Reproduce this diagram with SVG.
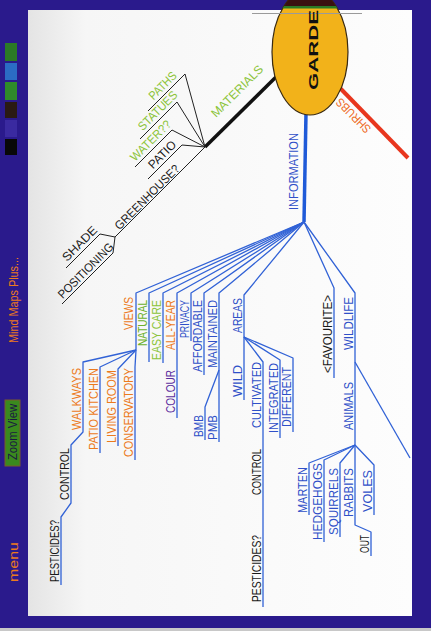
<svg xmlns="http://www.w3.org/2000/svg" width="431" height="631" viewBox="0 0 431 631">
<defs>
<style>
text{font-family:"Liberation Sans",Arial,sans-serif;font-size:12px}
.o{fill:#ec7a1c}.g{fill:#6cb02c}.y{fill:#8cc43a}.b{fill:#2f50c8}.k{fill:#1a1a1a}.p{fill:#5b2d9e}
.bl{stroke:#3162d6;stroke-width:1.3;fill:none;stroke-linejoin:round}
.bk{stroke:#222;stroke-width:1;fill:none}
</style>
<linearGradient id="shade" x1="0" x2="1" y1="0" y2="0">
<stop offset="0" stop-color="#e4e4e4"/><stop offset="0.15" stop-color="#f6f6f6"/><stop offset="1" stop-color="#fdfdfd"/>
</linearGradient>
<clipPath id="ec"><ellipse cx="310" cy="52" rx="38" ry="63"/></clipPath>
</defs>

<g id="frame">
<rect width="431" height="631" fill="#2a1a8c"/>
<rect x="28" y="10" width="384" height="606" fill="url(#shade)"/>
<rect x="0" y="628" width="431" height="3" fill="#c8c8c8"/>
<rect x="5" y="43" width="12" height="18" fill="#2b7a26"/>
<rect x="5" y="63" width="12" height="17" fill="#2b6cc4"/>
<rect x="5" y="82" width="12" height="18" fill="#2f8a2a"/>
<rect x="5" y="102" width="12" height="16" fill="#2a1a14"/>
<rect x="5" y="120" width="12" height="17" fill="#3a2aa0"/>
<rect x="5" y="139" width="12" height="16" fill="#080808"/>
<text class="o" transform="translate(18,343) rotate(-90)" font-size="14" textLength="86" lengthAdjust="spacingAndGlyphs">Mind Maps Plus...</text>
<rect x="5" y="400" width="15" height="66" fill="#3a8a1e" stroke="#7a5a2a" stroke-width="1"/>
<text transform="translate(17,460) rotate(-90)" font-size="13" fill="#1a1a40" textLength="56" lengthAdjust="spacingAndGlyphs">Zoom View</text>
<text class="o" transform="translate(18,582) rotate(-90)" font-size="14" textLength="40" lengthAdjust="spacingAndGlyphs">menu</text>
</g>

<g id="connectors">
<line x1="278" y1="75" x2="205" y2="147" stroke="#111" stroke-width="3.5"/>
<line x1="340" y1="88" x2="408" y2="158" stroke="#e8361e" stroke-width="4"/>
<line x1="306" y1="113" x2="304" y2="222" stroke="#1f5ad8" stroke-width="3.5"/>
<path class="bk" d="M205,147 L185,74 L148,111"/>
<path class="bk" d="M205,147 L177,102 L140,139"/>
<path class="bk" d="M205,147 L172,130 L135,167"/>
<path class="bk" d="M205,147 L182,145 L148,179"/>
<path class="bk" d="M205,147 L115,237"/>
<path class="bk" d="M115,237 L100,234 L66,268"/>
<path class="bk" d="M115,237 L113,253 L62,304"/>
<path class="bl" d="M304,222 L136,293 V350"/>
<path class="bl" d="M136,350 L83,362 V432 L71,445 V503 L61,517 V585"/>
<path class="bl" d="M136,350 L100,367 V453"/>
<path class="bl" d="M136,350 L118,369 V446"/>
<path class="bl" d="M136,350 L135,367 V460"/>
<path class="bl" d="M304,222 L149,293 V362"/>
<path class="bl" d="M304,222 L163,293 V363"/>
<path class="bl" d="M304,222 L177,293 V418"/>
<path class="bl" d="M304,222 L191,293 V341"/>
<path class="bl" d="M304,222 L204,293 V375"/>
<path class="bl" d="M304,222 L219,293 V442"/>
<path class="bl" d="M219,370 L205,407 V440"/>
<path class="bl" d="M304,222 L244,295 V400"/>
<path class="bl" d="M244,337 L263,362 V607"/>
<path class="bl" d="M244,337 L280,360 V438"/>
<path class="bl" d="M244,337 L293,358 V432"/>
<path class="bl" d="M304,222 L334,288 V378"/>
<path class="bl" d="M304,222 L355,293 V525 L371,532 V556"/>
<path class="bl" d="M355,362 L410,458"/>
<path class="bl" d="M355,445 L309,463 V515"/>
<path class="bl" d="M355,445 L324,460 V542"/>
<path class="bl" d="M355,445 L340,463 V537"/>
<path class="bl" d="M355,445 L374,465 V515"/>
</g>

<g id="garden">
<ellipse cx="310" cy="52" rx="38" ry="63" fill="#f2b21a" stroke="#3a2a10" stroke-width="1.2"/>
<g clip-path="url(#ec)"><rect x="260" y="-15" width="100" height="21" fill="#3a1010"/><rect x="260" y="6" width="100" height="2.5" fill="#2a7a26"/></g>
<line x1="252" y1="13.5" x2="362" y2="13.5" stroke="#9a9a9a" stroke-width="1.2"/>
<text transform="translate(318,90) rotate(-90)" font-weight="bold" font-size="24" fill="#111" textLength="80" lengthAdjust="spacingAndGlyphs">GARDE</text>
</g>

<g id="materials"><text class="y" text-anchor="middle" transform="translate(240,94) rotate(-45)" textLength="68" lengthAdjust="spacingAndGlyphs">MATERIALS</text></g>
<g id="paths"><text class="y" text-anchor="middle" transform="translate(165.5,88.5) rotate(-45)" textLength="34" lengthAdjust="spacingAndGlyphs">PATHS</text></g>
<g id="statues"><text class="y" text-anchor="middle" transform="translate(160.5,113.5) rotate(-45)" textLength="50" lengthAdjust="spacingAndGlyphs">STATUES</text></g>
<g id="water"><text class="y" text-anchor="middle" transform="translate(153.5,143.5) rotate(-45)" textLength="52" lengthAdjust="spacingAndGlyphs">WATER??</text></g>
<g id="patio"><text class="k" text-anchor="middle" transform="translate(165,157.5) rotate(-45)" textLength="34" lengthAdjust="spacingAndGlyphs">PATIO</text></g>
<g id="greenhouse"><text class="k" text-anchor="middle" transform="translate(150,200) rotate(-45)" textLength="86" lengthAdjust="spacingAndGlyphs">GREENHOUSE?</text></g>
<g id="shade-n"><text class="k" text-anchor="middle" transform="translate(82.5,246.5) rotate(-45)" textLength="44" lengthAdjust="spacingAndGlyphs">SHADE</text></g>
<g id="positioning"><text class="k" text-anchor="middle" transform="translate(88.5,273.5) rotate(-45)" textLength="73" lengthAdjust="spacingAndGlyphs">POSITIONING</text></g>
<g id="shrubs"><text text-anchor="middle" fill="#ee6a1e" transform="translate(356.3,112.7) rotate(-135)" textLength="44" lengthAdjust="spacingAndGlyphs">SHRUBS</text></g>

<g id="information"><text class="b" transform="translate(298,210) rotate(-90)" textLength="77" lengthAdjust="spacingAndGlyphs">INFORMATION</text></g>
<g id="views"><text class="o" transform="translate(133,330) rotate(-90)" textLength="33" lengthAdjust="spacingAndGlyphs">VIEWS</text></g>
<g id="natural"><text class="g" transform="translate(146.5,346) rotate(-90)" textLength="46" lengthAdjust="spacingAndGlyphs">NATURAL</text></g>
<g id="easycare"><text class="y" transform="translate(160.5,360) rotate(-90)" textLength="60" lengthAdjust="spacingAndGlyphs">EASY CARE</text></g>
<g id="allyear"><text class="o" transform="translate(174.5,350) rotate(-90)" textLength="50" lengthAdjust="spacingAndGlyphs">ALL-YEAR</text></g>
<g id="colour"><text class="p" transform="translate(174.5,413) rotate(-90)" textLength="43" lengthAdjust="spacingAndGlyphs">COLOUR</text></g>
<g id="privacy"><text class="b" transform="translate(188.5,338) rotate(-90)" textLength="38" lengthAdjust="spacingAndGlyphs">PRIVACY</text></g>
<g id="affordable"><text class="b" transform="translate(201.5,372) rotate(-90)" textLength="72" lengthAdjust="spacingAndGlyphs">AFFORDABLE</text></g>
<g id="maintained"><text class="b" transform="translate(216.5,368) rotate(-90)" textLength="68" lengthAdjust="spacingAndGlyphs">MAINTAINED</text></g>
<g id="bmb"><text class="b" transform="translate(202.5,437) rotate(-90)" textLength="22" lengthAdjust="spacingAndGlyphs">BMB</text></g>
<g id="pmb"><text class="b" transform="translate(217,440) rotate(-90)" textLength="25" lengthAdjust="spacingAndGlyphs">PMB</text></g>
<g id="areas"><text class="b" transform="translate(241.5,333) rotate(-90)" textLength="35" lengthAdjust="spacingAndGlyphs">AREAS</text></g>
<g id="wild"><text class="b" transform="translate(241.5,397) rotate(-90)" textLength="32" lengthAdjust="spacingAndGlyphs">WILD</text></g>
<g id="cultivated"><text class="b" transform="translate(260.5,428) rotate(-90)" textLength="66" lengthAdjust="spacingAndGlyphs">CULTIVATED</text></g>
<g id="integrated"><text class="b" transform="translate(277.5,433) rotate(-90)" textLength="70" lengthAdjust="spacingAndGlyphs">INTEGRATED</text></g>
<g id="different"><text class="b" transform="translate(290.5,427) rotate(-90)" textLength="60" lengthAdjust="spacingAndGlyphs">DIFFERENT</text></g>
<g id="control2"><text class="k" transform="translate(260.5,495) rotate(-90)" textLength="46" lengthAdjust="spacingAndGlyphs">CONTROL</text></g>
<g id="pesticides2"><text class="k" transform="translate(260.5,602) rotate(-90)" textLength="67" lengthAdjust="spacingAndGlyphs">PESTICIDES?</text></g>
<g id="favourite"><text class="k" transform="translate(331.5,373) rotate(-90)" textLength="78" lengthAdjust="spacingAndGlyphs">&lt;FAVOURITE&gt;</text></g>
<g id="wildlife"><text class="b" transform="translate(352.5,350) rotate(-90)" textLength="53" lengthAdjust="spacingAndGlyphs">WILDLIFE</text></g>
<g id="animals"><text class="b" transform="translate(352.5,430) rotate(-90)" textLength="48" lengthAdjust="spacingAndGlyphs">ANIMALS</text></g>
<g id="marten"><text class="b" transform="translate(306.5,513) rotate(-90)" textLength="46" lengthAdjust="spacingAndGlyphs">MARTEN</text></g>
<g id="hedgehogs"><text class="b" transform="translate(321.5,540) rotate(-90)" textLength="77" lengthAdjust="spacingAndGlyphs">HEDGEHOGS</text></g>
<g id="squirrels"><text class="b" transform="translate(337.5,535) rotate(-90)" textLength="67" lengthAdjust="spacingAndGlyphs">SQUIRRELS</text></g>
<g id="rabbits"><text class="b" transform="translate(352.5,517) rotate(-90)" textLength="49" lengthAdjust="spacingAndGlyphs">RABBITS</text></g>
<g id="voles"><text class="b" transform="translate(371.5,512) rotate(-90)" textLength="42" lengthAdjust="spacingAndGlyphs">VOLES</text></g>
<g id="out"><text class="k" transform="translate(368.5,553) rotate(-90)" textLength="18" lengthAdjust="spacingAndGlyphs">OUT</text></g>
<g id="walkways"><text class="o" transform="translate(80.5,430) rotate(-90)" textLength="62" lengthAdjust="spacingAndGlyphs">WALKWAYS</text></g>
<g id="patiokitchen"><text class="o" transform="translate(97.5,450) rotate(-90)" textLength="82" lengthAdjust="spacingAndGlyphs">PATIO KITCHEN</text></g>
<g id="livingroom"><text class="o" transform="translate(115.5,443) rotate(-90)" textLength="73" lengthAdjust="spacingAndGlyphs">LIVING ROOM</text></g>
<g id="conservatory"><text class="o" transform="translate(132.5,457) rotate(-90)" textLength="89" lengthAdjust="spacingAndGlyphs">CONSERVATORY</text></g>
<g id="control1"><text class="k" transform="translate(68.5,500) rotate(-90)" textLength="52" lengthAdjust="spacingAndGlyphs">CONTROL</text></g>
<g id="pesticides1"><text class="k" transform="translate(58.5,582) rotate(-90)" textLength="62" lengthAdjust="spacingAndGlyphs">PESTICIDES?</text></g>
</svg>
